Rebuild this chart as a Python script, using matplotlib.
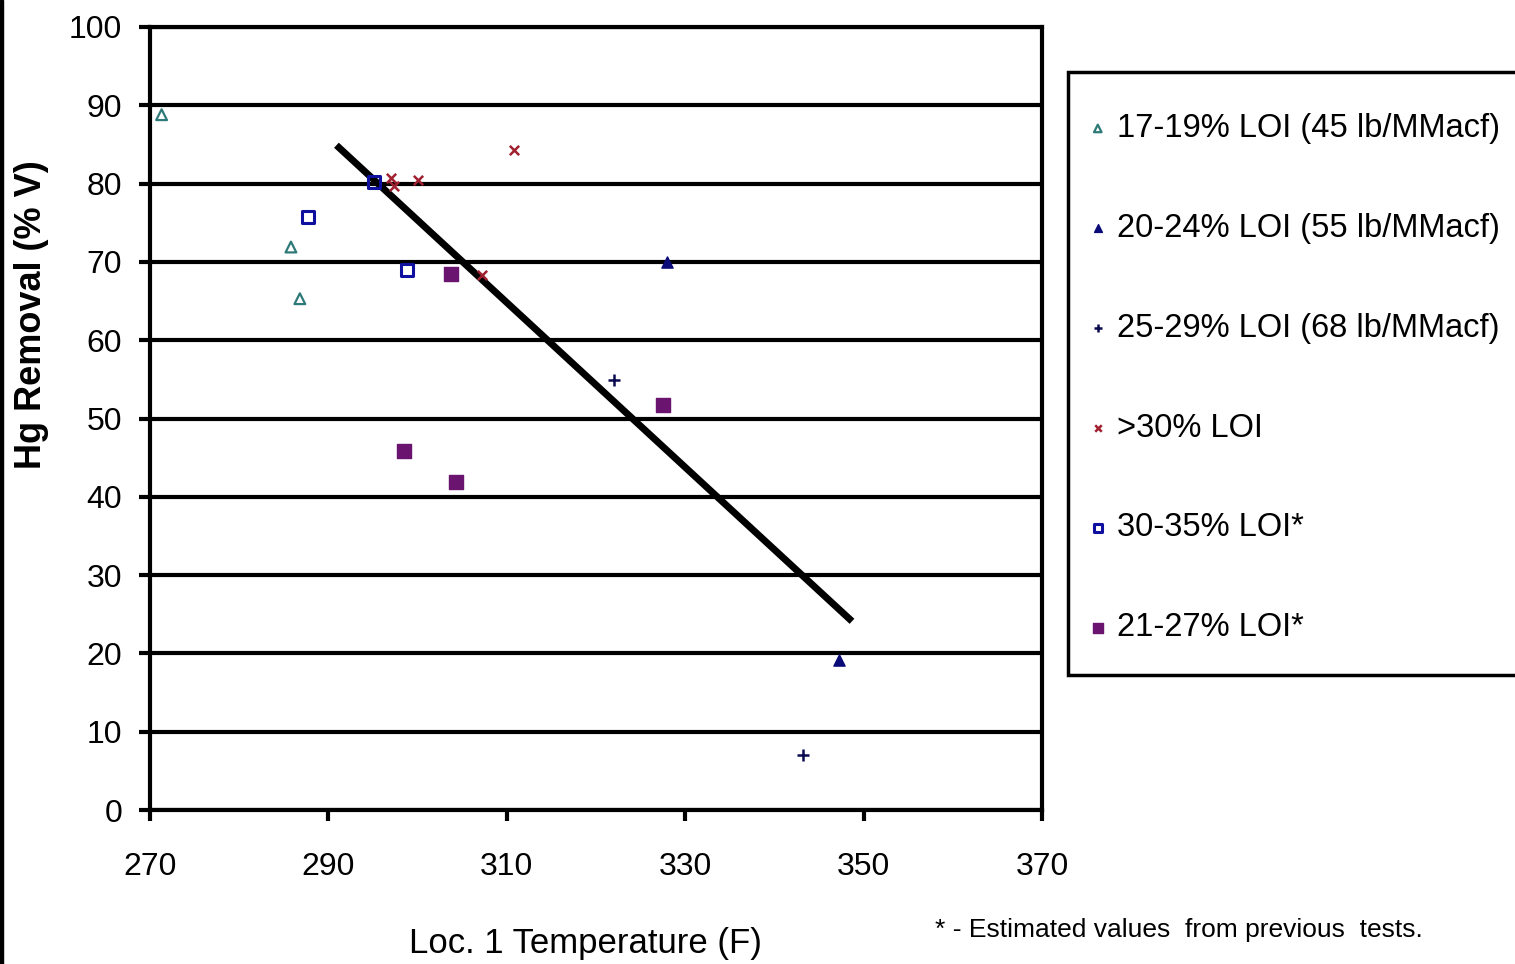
import matplotlib.pyplot as plt
from matplotlib.patches import Rectangle

plt.rcParams['font.family'] = ['Liberation Sans', 'DejaVu Sans']

# data
loi_17_19_x = [271.3, 285.8, 286.8]
loi_17_19_y = [88.8, 71.9, 65.3]
loi_20_24_x = [328.0, 347.2]
loi_20_24_y = [70.0, 19.2]
loi_25_29_x = [322.0, 343.2]
loi_25_29_y = [54.9, 7.0]
loi_30_x = [310.8, 297.0, 300.0, 297.4, 307.2]
loi_30_y = [84.3, 80.7, 80.5, 79.7, 68.3]
loi_30_35_x = [295.1, 287.7, 298.8]
loi_30_35_y = [80.2, 75.7, 69.0]
loi_21_27_x = [303.7, 327.5, 298.5, 304.3]
loi_21_27_y = [68.5, 51.7, 45.8, 41.9]
trend_x = [290.9, 348.7]
trend_y = [84.9, 24.1]

x_ticks = [270, 290, 310, 330, 350, 370]
y_ticks = [0, 10, 20, 30, 40, 50, 60, 70, 80, 90, 100]

W, H = 1515, 964
fig = plt.figure(figsize=(W / 100, H / 100), dpi=100)
ax = fig.add_axes([150 / W, 1 - 810 / H, 892 / W, 783 / H])

ax.plot(trend_x, trend_y, color='black', lw=5, zorder=3, solid_capstyle='butt')

ax.scatter(loi_17_19_x, loi_17_19_y, marker='^', s=60, facecolors='none',
           edgecolors='#2e7a78', linewidths=1.6, label='17-19% LOI (45 lb/MMacf)', zorder=4)
ax.scatter(loi_20_24_x, loi_20_24_y, marker='^', s=65, color='#0a0a78',
           label='20-24% LOI (55 lb/MMacf)', zorder=4)
ax.scatter(loi_25_29_x, loi_25_29_y, marker='+', s=70, color='#0a0a50',
           linewidths=1.8, label='25-29% LOI (68 lb/MMacf)', zorder=4)
ax.scatter(loi_30_x, loi_30_y, marker='x', s=45, color='#a02030',
           linewidths=1.8, label='>30% LOI', zorder=4)
ax.scatter(loi_30_35_x, loi_30_35_y, marker='s', s=70, facecolors='none',
           edgecolors='#1010a0', linewidths=2.2, label='30-35% LOI*', zorder=4)
ax.scatter(loi_21_27_x, loi_21_27_y, marker='s', s=110, color='#6a1470',
           label='21-27% LOI*', zorder=4)

ax.set_xlim(270, 370)
ax.set_ylim(0, 100)
ax.set_xticks(x_ticks)
ax.set_yticks(y_ticks)
ax.grid(axis='y', color='black', lw=3)
ax.set_axisbelow(True)
for s in ax.spines.values():
    s.set_linewidth(3)
    s.set_color('black')
ax.tick_params(length=8, width=3, labelsize=23)
ax.tick_params(axis='y', pad=12)
ax.tick_params(axis='x', pad=22)

fig.text(32 / W, 1 - 315 / H, 'Hg Removal (% V)', rotation=90, ha='center',
         va='center', fontsize=26, fontweight='bold')
fig.text(585 / W, 1 - 944 / H, 'Loc. 1 Temperature (F)', ha='center',
         va='center', fontsize=25)
fig.text(935 / W, 1 - 930 / H, '* - Estimated values  from previous  tests.',
         ha='left', va='center', fontsize=19)

# legend frame drawn by hand so the entries can sit close to its left edge
fig.patches.append(Rectangle((1068 / W, 1 - 675 / H), 460 / W, 603 / H,
                             transform=fig.transFigure, facecolor='white',
                             edgecolor='black', lw=2.5, zorder=1))
fig.legend(loc='upper left', bbox_to_anchor=(1088 / W, 1 - 113 / H),
           frameon=False, fontsize=23.5, markerscale=0.7, handlelength=0.6,
           handletextpad=0.28, labelspacing=2.11, borderpad=0, borderaxespad=0)

# black bar along the left edge
fig.patches.append(Rectangle((0, 0), 3 / W, 1, transform=fig.transFigure,
                             color='black', zorder=10))

fig.savefig('out.png', dpi=100)
